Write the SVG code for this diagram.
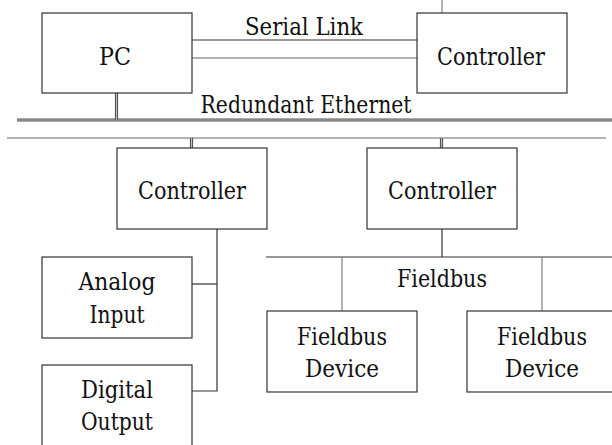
<svg xmlns="http://www.w3.org/2000/svg" width="612" height="445" viewBox="0 0 612 445">
<style>
.box{fill:#fff;stroke:#333;stroke-width:1.2}
.ln{fill:none;stroke:#333;stroke-width:1.2}
.thin{fill:none;stroke:#666;stroke-width:1}
.dbl{fill:none;stroke:#555;stroke-width:3.2}
.dblc{fill:none;stroke:#bbb;stroke-width:1}
.t{font-family:"DejaVu Serif",serif;font-size:24px;fill:#111;text-anchor:middle}
</style>
<rect width="612" height="445" fill="#fff"/>
<g id="connectors">
  <line class="thin" x1="442" y1="0" x2="442" y2="13"/>
  <line class="ln" x1="192" y1="40" x2="417" y2="40"/>
  <line class="thin" x1="192" y1="58" x2="417" y2="58"/>
  <line class="dbl" x1="17" y1="120" x2="612" y2="120"/>
  <line class="dblc" x1="17" y1="120" x2="612" y2="120"/>
  <line class="dbl" x1="116.5" y1="93" x2="116.5" y2="120"/>
  <line class="dblc" x1="116.5" y1="93" x2="116.5" y2="120"/>
  <line class="thin" x1="7" y1="138" x2="606" y2="138"/>
  <line class="dbl" x1="191.5" y1="138" x2="191.5" y2="148"/>
  <line class="dblc" x1="191.5" y1="138" x2="191.5" y2="148"/>
  <line class="dbl" x1="441.5" y1="138" x2="441.5" y2="148"/>
  <line class="dblc" x1="441.5" y1="138" x2="441.5" y2="148"/>
  <polyline class="ln" points="217,229 217,391 192,391"/>
  <line class="ln" x1="192" y1="284" x2="217" y2="284"/>
  <line class="ln" x1="442" y1="229" x2="442" y2="257"/>
  <line class="ln" x1="266" y1="257" x2="612" y2="257"/>
  <line class="thin" x1="342" y1="257" x2="342" y2="311"/>
  <line class="thin" x1="542" y1="257" x2="542" y2="311"/>
</g>
<text class="t" x="304" y="35" textLength="118" lengthAdjust="spacingAndGlyphs">Serial Link</text>
<text class="t" x="306" y="113" textLength="211" lengthAdjust="spacingAndGlyphs">Redundant Ethernet</text>
<text class="t" x="442" y="287" textLength="90" lengthAdjust="spacingAndGlyphs">Fieldbus</text>
<g id="pc">
  <rect class="box" x="42" y="13" width="150" height="80"/>
  <text class="t" x="115" y="65" textLength="32" lengthAdjust="spacingAndGlyphs">PC</text>
</g>
<g id="controller-top">
  <rect class="box" x="417" y="13" width="150" height="80"/>
  <text class="t" x="491" y="65" textLength="108" lengthAdjust="spacingAndGlyphs">Controller</text>
</g>
<g id="controller-left">
  <rect class="box" x="117" y="148" width="150" height="81"/>
  <text class="t" x="192" y="199" textLength="108" lengthAdjust="spacingAndGlyphs">Controller</text>
</g>
<g id="controller-right">
  <rect class="box" x="367" y="148" width="150" height="81"/>
  <text class="t" x="442" y="199" textLength="108" lengthAdjust="spacingAndGlyphs">Controller</text>
</g>
<g id="analog-input">
  <rect class="box" x="42" y="257" width="150" height="81"/>
  <text class="t" x="117" y="290" textLength="77" lengthAdjust="spacingAndGlyphs">Analog</text>
  <text class="t" x="117" y="323" textLength="55" lengthAdjust="spacingAndGlyphs">Input</text>
</g>
<g id="digital-output">
  <rect class="box" x="42" y="365" width="150" height="90"/>
  <text class="t" x="117" y="398" textLength="72" lengthAdjust="spacingAndGlyphs">Digital</text>
  <text class="t" x="117" y="430" textLength="72" lengthAdjust="spacingAndGlyphs">Output</text>
</g>
<g id="fieldbus-device-1">
  <rect class="box" x="267" y="311" width="150" height="81"/>
  <text class="t" x="342" y="345" textLength="90" lengthAdjust="spacingAndGlyphs">Fieldbus</text>
  <text class="t" x="342" y="377" textLength="74" lengthAdjust="spacingAndGlyphs">Device</text>
</g>
<g id="fieldbus-device-2">
  <rect class="box" x="467" y="311" width="150" height="81"/>
  <text class="t" x="542" y="345" textLength="90" lengthAdjust="spacingAndGlyphs">Fieldbus</text>
  <text class="t" x="542" y="377" textLength="74" lengthAdjust="spacingAndGlyphs">Device</text>
</g>
</svg>
